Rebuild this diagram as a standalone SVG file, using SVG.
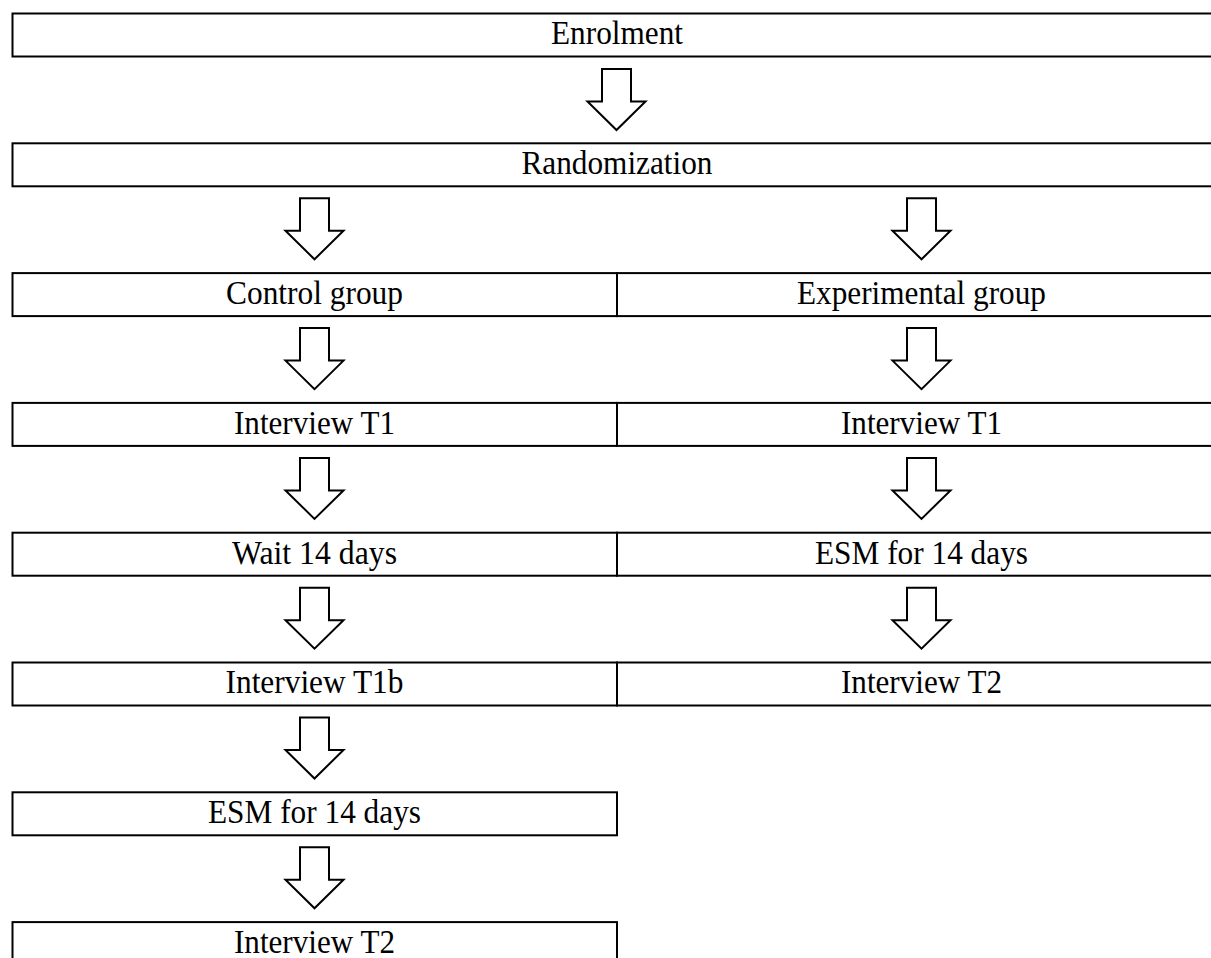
<svg xmlns="http://www.w3.org/2000/svg" xmlns:xlink="http://www.w3.org/1999/xlink" width="1211" height="958" viewBox="0 0 1211 958">
<style>
.box{fill:#fff;stroke:#000;stroke-width:2}
.arr{fill:#fff;stroke:#000;stroke-width:2;stroke-linejoin:miter}
text{font-family:"Liberation Serif","Times New Roman",serif;font-size:33px;fill:#000;text-anchor:middle}
</style>
<defs>
<path id="arrow" class="arr" d="M-14.5,0 H14.5 V32.5 H29 L0,61 L-29,32.5 H-14.5 Z"/>
</defs>
<rect width="1211" height="958" fill="#fff"/>
<g id="connectors">
<use xlink:href="#arrow" href="#arrow" x="616.5" y="69"/>
<use xlink:href="#arrow" href="#arrow" x="314.5" y="198.3"/>
<use xlink:href="#arrow" href="#arrow" x="921.5" y="198.3"/>
<use xlink:href="#arrow" href="#arrow" x="314.5" y="328.1"/>
<use xlink:href="#arrow" href="#arrow" x="921.5" y="328.1"/>
<use xlink:href="#arrow" href="#arrow" x="314.5" y="457.9"/>
<use xlink:href="#arrow" href="#arrow" x="921.5" y="457.9"/>
<use xlink:href="#arrow" href="#arrow" x="314.5" y="587.7"/>
<use xlink:href="#arrow" href="#arrow" x="921.5" y="587.7"/>
<use xlink:href="#arrow" href="#arrow" x="314.5" y="717.5"/>
<use xlink:href="#arrow" href="#arrow" x="314.5" y="847.3"/>
</g>
<g id="enrolment"><rect class="box" x="12.5" y="13.5" width="1212" height="43"/><text x="617" y="44.3" textLength="132" lengthAdjust="spacingAndGlyphs">Enrolment</text></g>
<g id="randomization"><rect class="box" x="12.5" y="143.3" width="1212" height="43"/><text x="617" y="174.1" textLength="191" lengthAdjust="spacingAndGlyphs">Randomization</text></g>
<g id="control"><rect class="box" x="12.5" y="273.1" width="604.5" height="43"/><text x="314.5" y="303.9" textLength="177" lengthAdjust="spacingAndGlyphs">Control group</text></g>
<g id="experimental"><rect class="box" x="617" y="273.1" width="607.5" height="43"/><text x="921.5" y="303.9" textLength="249" lengthAdjust="spacingAndGlyphs">Experimental group</text></g>
<g id="c-t1"><rect class="box" x="12.5" y="402.9" width="604.5" height="43"/><text x="314.5" y="433.7" textLength="161" lengthAdjust="spacingAndGlyphs">Interview T1</text></g>
<g id="e-t1"><rect class="box" x="617" y="402.9" width="607.5" height="43"/><text x="921.5" y="433.7" textLength="161" lengthAdjust="spacingAndGlyphs">Interview T1</text></g>
<g id="c-wait"><rect class="box" x="12.5" y="532.7" width="604.5" height="43"/><text x="314.5" y="563.5" textLength="165" lengthAdjust="spacingAndGlyphs">Wait 14 days</text></g>
<g id="e-esm"><rect class="box" x="617" y="532.7" width="607.5" height="43"/><text x="921.5" y="563.5" textLength="213" lengthAdjust="spacingAndGlyphs">ESM for 14 days</text></g>
<g id="c-t1b"><rect class="box" x="12.5" y="662.5" width="604.5" height="43"/><text x="314.5" y="693.3" textLength="178" lengthAdjust="spacingAndGlyphs">Interview T1b</text></g>
<g id="e-t2"><rect class="box" x="617" y="662.5" width="607.5" height="43"/><text x="921.5" y="693.3" textLength="161" lengthAdjust="spacingAndGlyphs">Interview T2</text></g>
<g id="c-esm"><rect class="box" x="12.5" y="792.3" width="604.5" height="43"/><text x="314.5" y="823.1" textLength="213" lengthAdjust="spacingAndGlyphs">ESM for 14 days</text></g>
<g id="c-t2"><rect class="box" x="12.5" y="922.1" width="604.5" height="43"/><text x="314.5" y="952.9" textLength="161" lengthAdjust="spacingAndGlyphs">Interview T2</text></g>
</svg>
